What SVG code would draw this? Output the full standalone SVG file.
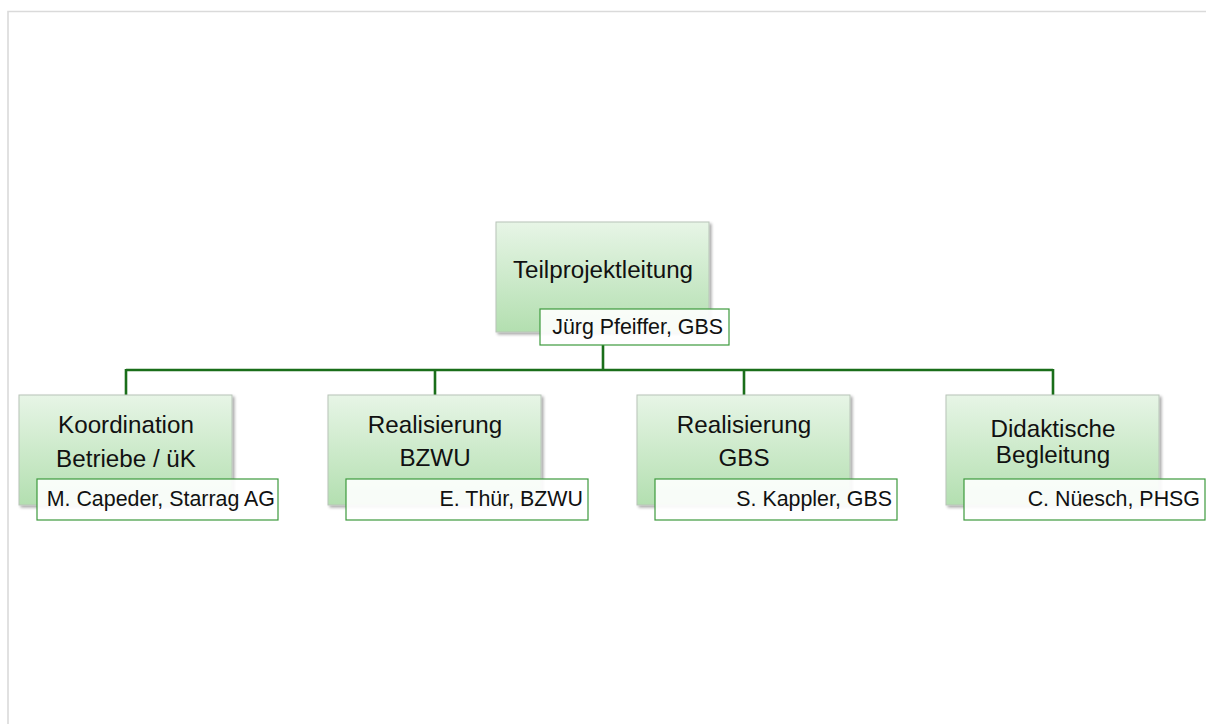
<svg xmlns="http://www.w3.org/2000/svg" width="1206" height="724" viewBox="0 0 1206 724">
<defs>
<linearGradient id="g" x1="0" y1="0" x2="0" y2="1">
<stop offset="0" stop-color="#e7f5e6"/>
<stop offset="1" stop-color="#b3dfb0"/>
</linearGradient>
<filter id="sh" x="-10%" y="-10%" width="130%" height="130%">
<feGaussianBlur in="SourceAlpha" stdDeviation="1.5"/>
<feOffset dx="1.5" dy="2" result="b"/>
<feComponentTransfer><feFuncA type="linear" slope="0.35"/></feComponentTransfer>
<feMerge><feMergeNode/><feMergeNode in="SourceGraphic"/></feMerge>
</filter>
</defs>
<style>
.box{fill:url(#g);stroke:#b8c4b8;stroke-width:1;filter:url(#sh)}
.lab{fill:#ffffff;fill-opacity:0.9;stroke:#3c9a3c;stroke-width:1.2}
.t{font-family:"Liberation Sans",Arial,sans-serif;font-size:24.2px;fill:#111;text-anchor:middle}
.s{font-family:"Liberation Sans",Arial,sans-serif;font-size:21.4px;fill:#111;text-anchor:end}
.c{fill:none;stroke:#1a6e1a;stroke-width:2.6}
.frame{fill:none;stroke:#dadada;stroke-width:1.6}
</style>
<rect width="1206" height="724" fill="#ffffff"/>
<path class="frame" d="M1206 11.5 H8 V724"/>
<g id="connectors">
<path class="c" d="M603 345 V370 M126 370 H1053 M126 369 V395 M435 369 V395 M744 369 V395 M1053 369 V395"/>
</g>
<g id="node-top">
<rect class="box" x="496" y="222" width="213" height="110"/>
<text class="t" x="603" y="278">Teilprojektleitung</text>
<rect class="lab" x="540" y="309" width="189" height="36"/>
<text class="s" x="723" y="334">Jürg Pfeiffer, GBS</text>
</g>
<g id="node-koordination">
<rect class="box" x="19" y="395" width="213" height="110"/>
<text class="t" x="126" y="433">Koordination</text>
<text class="t" x="126" y="467">Betriebe / üK</text>
<rect class="lab" x="37" y="479" width="241" height="41"/>
<text class="s" x="275" y="506">M. Capeder, Starrag AG</text>
</g>
<g id="node-bzwu">
<rect class="box" x="328" y="395" width="213" height="110"/>
<text class="t" x="435" y="433">Realisierung</text>
<text class="t" x="435" y="466">BZWU</text>
<rect class="lab" x="346" y="479" width="242" height="41"/>
<text class="s" x="583" y="506">E. Thür, BZWU</text>
</g>
<g id="node-gbs">
<rect class="box" x="637" y="395" width="213" height="110"/>
<text class="t" x="744" y="433">Realisierung</text>
<text class="t" x="744" y="466">GBS</text>
<rect class="lab" x="655" y="479" width="242" height="41"/>
<text class="s" x="892" y="506">S. Kappler, GBS</text>
</g>
<g id="node-didaktik">
<rect class="box" x="946" y="395" width="213" height="110"/>
<text class="t" x="1053" y="437">Didaktische</text>
<text class="t" x="1053" y="463">Begleitung</text>
<rect class="lab" x="964" y="479" width="241" height="41"/>
<text class="s" x="1200" y="506">C. Nüesch, PHSG</text>
</g>
</svg>
